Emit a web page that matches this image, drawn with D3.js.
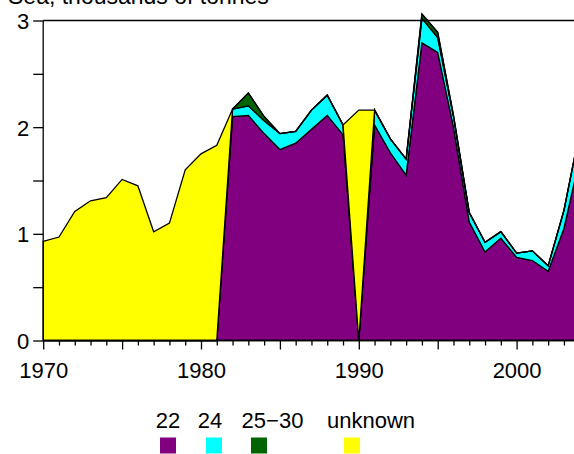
<!DOCTYPE html>
<html>
<head>
<meta charset="utf-8">
<script src="https://cdn.jsdelivr.net/npm/d3@7"></script>
<style>
  html, body { margin: 0; padding: 0; background: #fff; }
  svg { display: block; }
  text { font-family: "Liberation Sans", Arial, Helvetica, sans-serif; }
</style>
</head>
<body>
<svg id="chart" width="574" height="454"></svg>
<script>
// ---- data ----
const years = [1970,1971,1972,1973,1974,1975,1976,1977,1978,1979,1980,1981,1982,1983,1984,1985,1986,1987,1988,1989,1990,1991,1992,1993,1994,1995,1996,1997,1998,1999,2000,2001,2002,2003,2004];
const sd22 =    [0,0,0,0,0,0,0,0,0,0,0,0, 2.10,2.11,1.94,1.79,1.85,1.98,2.11,1.93,0, 2.02,1.76,1.55,2.79,2.70,2.00,1.11,0.83,0.96,0.78,0.75,0.65,1.05,1.71];
const sd24 =    [0,0,0,0,0,0,0,0,0,0,0,0, 0.07,0.09,0.12,0.15,0.11,0.18,0.19,0.09,0, 0.14,0.13,0.15,0.23,0.14,0.10,0.09,0.09,0.06,0.04,0.09,0.05,0.17,0.25];
const sd2530 =  [0,0,0,0,0,0,0,0,0,0,0,0, 0,0.12,0.04,0,0,0,0,0,0, 0,0,0,0.04,0.05,0.01,0,0,0,0,0,0,0,0];
const unknown = [0.93,0.97,1.21,1.31,1.34,1.51,1.45,1.02,1.10,1.60,1.75,1.83, 0,0,0,0,0,0,0,0,2.16, 0,0,0,0,0,0,0,0,0,0,0,0,0,0];
const seriesNames = ["22","24","25\u221230","unknown"];
const seriesColors = ["#800080","#00ffff","#006400","#ffff00"];
const yTicks = [0,0.5,1,1.5,2,2.5,3];
const yLabels = [0,1,2,3];
const xLabels = [1970,1980,1990,2000];
const title = "Sea, thousands of tonnes";

// ---- layout ----
const svg = d3.select("#chart");
const x = d3.scaleLinear().domain([1970, 2004]).range([43.2, 43.2 + 34*15.78]);
const y = d3.scaleLinear().domain([0, 3]).range([340.5, 20.5]);
const font = 22;

const table = years.map((yr,i)=>({year:yr, "22":sd22[i], "24":sd24[i], "25\u221230":sd2530[i], "unknown":unknown[i]}));
const stack = d3.stack().keys(seriesNames);
const layers = stack(table);

const area = d3.area()
  .x(d => x(d.data.year))
  .y0(d => y(d[0]))
  .y1(d => y(d[1]));

svg.append("g").selectAll("path").data(layers).join("path")
  .attr("d", area)
  .attr("fill", (d,i) => seriesColors[i])
  .attr("stroke", "#000")
  .attr("stroke-width", 1.3)
  .attr("stroke-linejoin", "miter");

// top frame line at y=3
svg.append("line")
  .attr("x1", x(1970)).attr("x2", 600)
  .attr("y1", y(3)).attr("y2", y(3))
  .attr("stroke", "#000").attr("stroke-width", 1.3);

// y axis
const yAxis = d3.axisLeft(y).tickValues(yTicks).tickSize(10).tickSizeOuter(0).tickPadding(4)
  .tickFormat(v => yLabels.includes(v) ? String(v) : "");
const gy = svg.append("g").attr("transform", `translate(${x(1970)},0)`).call(yAxis);
gy.selectAll("text").attr("font-size", font).attr("fill", "#000").attr("dy", "0.36em");
gy.selectAll("line, path").attr("stroke", "#000").attr("stroke-width", 1.3);
gy.select(".domain").attr("d", `M0,${y(0)}V${y(3)}`);
gy.attr("font-family", null);

// x axis
const xAxis = d3.axisBottom(x).tickValues(years).tickSize(5).tickSizeOuter(0)
  .tickFormat(v => xLabels.includes(v) ? String(v) : "");
const gx = svg.append("g").attr("transform", `translate(0,${y(0)})`).call(xAxis);
gx.selectAll(".tick line").attr("y2", v => v % 5 === 0 ? 9 : 5);
gx.selectAll("text").attr("font-size", font).attr("fill", "#000").attr("y", 37.5).attr("dy", 0);
gx.selectAll("line, path").attr("stroke", "#000").attr("stroke-width", 1.3);
gx.select(".domain").attr("d", `M${x(1970)},0H600`);
gx.attr("font-family", null);

// title (partially cut at top)
svg.append("text").attr("x", 8).attr("y", 4).attr("font-size", font+1).attr("fill", "#000").text(title);

// legend
const legendLabelX = [168, 210, 272.5, 371];
const legendBoxX = [160, 206, 251, 344];
const lg = svg.append("g");
seriesNames.forEach((n,i) => {
  lg.append("text").attr("x", legendLabelX[i]).attr("y", 428).attr("text-anchor","middle")
    .attr("font-size", font).attr("fill","#000").text(n);
  lg.append("rect").attr("x", legendBoxX[i]).attr("y", 437.5).attr("width", 16).attr("height", 16)
    .attr("fill", seriesColors[i]);
});
</script>
</body>
</html>
